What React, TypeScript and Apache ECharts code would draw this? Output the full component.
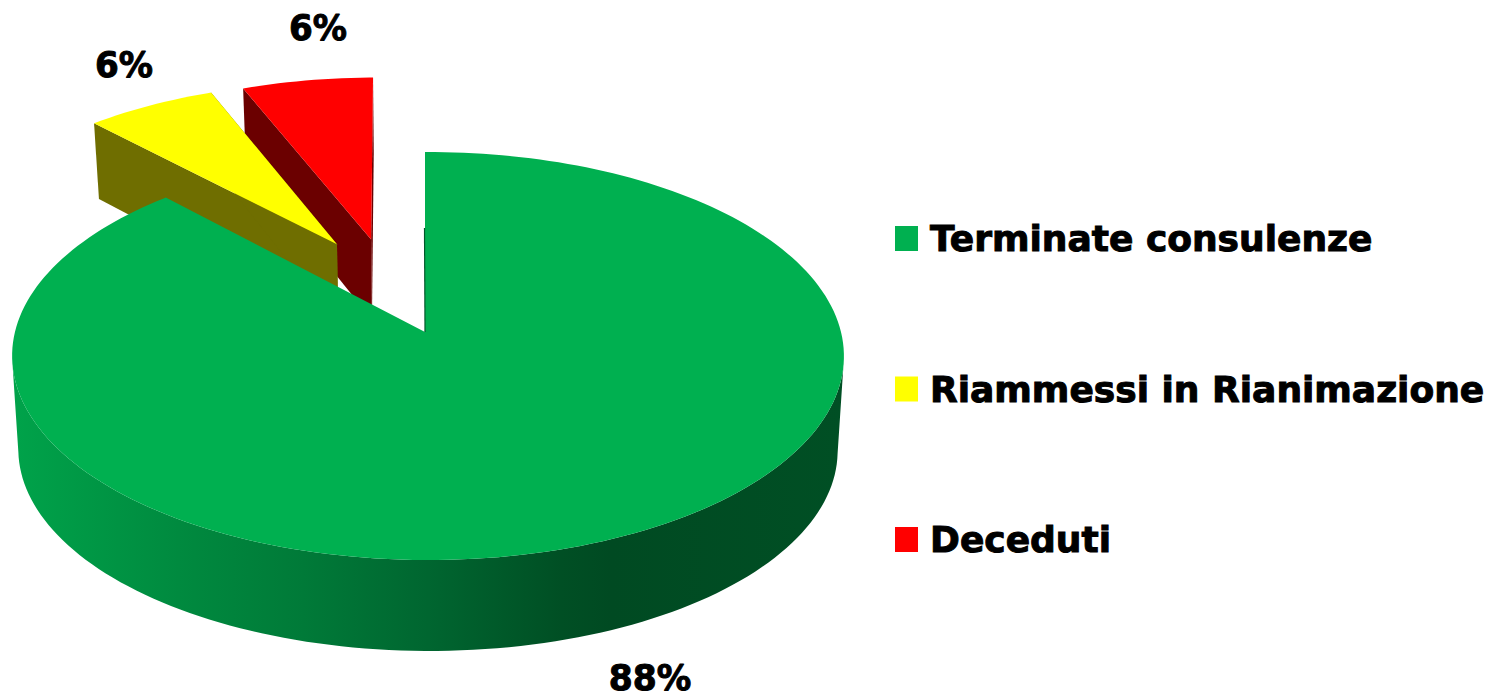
import React, { useEffect, useRef } from "react";
import * as echarts from "echarts";

const categories = ["Terminate consulenze", "Riammessi in Rianimazione", "Deceduti"];
const values = [88, 6, 6];
const topColors = ["#00B050", "#FFFF00", "#FF0000"];
const faceColors = ["#004B22", "#6F6E00", "#6B0000"];
const drawOrder = [2, 1, 0];
const legendOrder = [0, 1, 2];

// Layout of the tilted disc (perspective projection of a unit circle).
const CX = 425;
const CY = 332;
const RX = 413;
const RY = 201.2;
const K_Y = 0.1176;
const K_X = -0.0072;
const BASE_SCALE_X = 0.985;
const STEP_DEG = 1.5;
const WALL_MAX_COS = -0.1176;
const explode = [
  { x: 0, y: 0, lean: 0, depth: 94.3, baseY: 0.93 },
  { x: -0.225, y: 0.46, lean: -4.5, depth: 83.3, baseY: 0.985 },
  { x: -0.138, y: 0.487, lean: -3.5, depth: 83.3, baseY: 0.985 },
];
const labelLayout = [
  { x: 650, y: 678, size: 35, scaleX: 0.985 },
  { x: 124, y: 64, size: 36, scaleX: 0.95 },
  { x: 318, y: 27, size: 36, scaleX: 0.95 },
];
const FONT = "'DejaVu Sans', sans-serif";

const project = (X: number, Y: number, base: boolean, piece: any, rimY: number) => {
  const px = X + piece.x;
  const py = Y + piece.y;
  const den = 1 + K_Y * py + K_X * px;
  return [
    CX + ((base ? BASE_SCALE_X : 1) * RX * px) / den + piece.lean * rimY,
    CY - ((base ? piece.baseY : 1) * RY * py) / den + (base ? piece.depth / den : 0),
  ];
};

const starts = values.map((_, i) => values.slice(0, i).reduce((a, b) => a + b, 0));
const total = values.reduce((a, b) => a + b, 0);

const makeRenderItem = (index: number) => (_params: any, api: any) => {
  const value = api.value(0);
  const start = api.value(1);
  const a0 = (start / total) * 360;
  const a1 = ((start + value) / total) * 360;
  const piece = explode[index];
  const rim = (deg: number, base: boolean) => {
    const r = (deg * Math.PI) / 180;
    const X = Math.sin(r);
    const Y = Math.cos(r);
    return project(X, Y, base, piece, Y);
  };
  const angles: number[] = [];
  for (let a = a0; a < a1; a += STEP_DEG) angles.push(a);
  angles.push(a1);

  const topRim = angles.map((a) => rim(a, false));
  const baseRim = angles.map((a) => rim(a, true));
  const apexTop = project(0, 0, false, piece, 0);
  const apexBase = project(0, 0, true, piece, 0);

  const wallAngles = angles.filter((a) => Math.cos((a * Math.PI) / 180) <= WALL_MAX_COS);

  const children: any[] = [];
  if (wallAngles.length > 1) {
    children.push({
      type: "polygon",
      shape: {
        points: [
          ...wallAngles.map((a) => rim(a, false)),
          ...wallAngles
            .slice()
            .reverse()
            .map((a) => rim(a, true)),
        ],
      },
      style: {
        fill: new echarts.graphic.LinearGradient(0, 0, 1, 0, [
          { offset: 0, color: "#00A34A" },
          { offset: 0.2, color: "#008A3F" },
          { offset: 0.35, color: "#007A38" },
          { offset: 0.5, color: "#006630" },
          { offset: 0.66, color: "#004F24" },
          { offset: 0.72, color: "#004A22" },
          { offset: 1, color: "#004F24" },
        ]),
      },
    });
  }
  if (index !== 0) {
    children.push(
      {
        type: "polygon",
        shape: { points: [apexTop, topRim[0], baseRim[0], apexBase] },
        style: { fill: faceColors[index] },
      },
      {
        type: "polygon",
        shape: { points: [apexTop, topRim[topRim.length - 1], baseRim[baseRim.length - 1], apexBase] },
        style: { fill: faceColors[index] },
      }
    );
  }
  children.push({
    type: "polygon",
    shape: { points: [apexTop, ...topRim] },
    style: { fill: topColors[index] },
  });
  if (index === 0) {
    const p0 = project(0, 0.55, false, piece, 0);
    children.push({
      type: "line",
      shape: { x1: p0[0] - 0.5, y1: p0[1], x2: apexTop[0], y2: apexTop[1] },
      style: { stroke: "#00572A", lineWidth: 1.2 },
    });
  }
  const lab = labelLayout[index];
  children.push({
    type: "text",
    x: lab.x,
    y: lab.y,
    scaleX: lab.scaleX,
    style: {
      text: `${value}%`,
      fill: "#000000",
      stroke: "#000000",
      lineWidth: 1,
      font: `bold ${lab.size}px ${FONT}`,
      align: "center",
      verticalAlign: "middle",
    },
  });
  return { type: "group", children };
};

export default function App() {
  const ref = useRef<HTMLDivElement>(null);
  useEffect(() => {
    const chart = echarts.init(ref.current!, undefined, { renderer: "svg" });
    chart.setOption({
      animation: false,
      backgroundColor: "#ffffff",
      legend: {
        orient: "vertical",
        left: 895,
        top: 220,
        padding: 0,
        itemWidth: 23,
        itemHeight: 25,
        itemGap: 113.5,
        icon: "rect",
        data: legendOrder.map((i) => categories[i]),
        textStyle: {
          fontFamily: FONT,
          fontWeight: "bold",
          fontSize: 36,
          lineHeight: 36,
          padding: [0, 0, 0, 7],
          color: "#000000",
          textBorderColor: "#000000",
          textBorderWidth: 1,
        },
        selectedMode: false,
      },
      series: drawOrder.map((i) => ({
        type: "custom",
        name: categories[i],
        coordinateSystem: "none",
        itemStyle: { color: topColors[i] },
        renderItem: makeRenderItem(i),
        data: [[values[i], starts[i]]],
        silent: true,
      })),
    });
    return () => chart.dispose();
  }, []);
  return <div ref={ref} style={{ position: "fixed", left: 0, top: 0, width: 1504, height: 699 }} />;
}
